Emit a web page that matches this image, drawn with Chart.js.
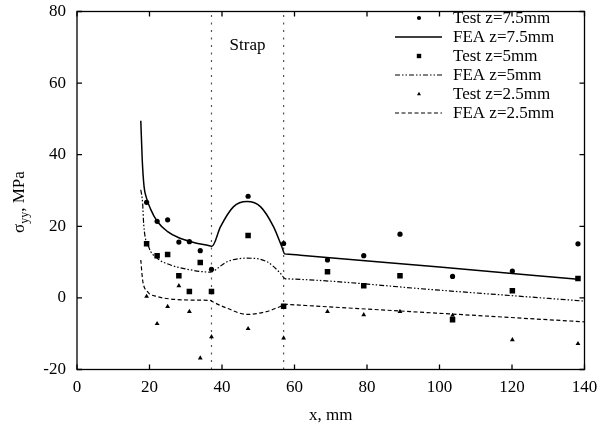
<!DOCTYPE html>
<html>
<head>
<meta charset="utf-8">
<script src="https://cdn.jsdelivr.net/npm/chart.js@4.4.1/dist/chart.umd.min.js"></script>
<style>
  html, body { margin: 0; padding: 0; background: #fff; }
  #wrap { width: 600px; height: 429px; }
</style>
</head>
<body>
<div id="wrap"><canvas id="chart"></canvas></div>
<script>
// measurement positions (mm) and measured stresses (MPa)
const testX = [19.2, 22.1, 25.0, 28.1, 31.0, 34.0, 37.1, 47.2, 57.0, 69.1, 79.1, 89.1, 103.6, 120.1, 138.2];
const test75 = [26.7, 21.4, 21.8, 15.6, 15.7, 13.2, 8.0, 28.4, 15.2, 10.6, 11.8, 17.8, 6.0, 7.5, 15.1];
const test5 = [15.1, 11.8, 12.1, 6.2, 1.8, 9.9, 1.8, 17.4, -2.3, 7.3, 3.4, 6.2, -6.1, 2.0, 5.4];
const test25 = [0.4, -7.2, -2.4, 3.4, -3.8, -16.8, -10.9, -8.6, -11.2, -3.8, -4.7, -3.8, -4.9, -11.7, -12.8];

// FEA curves
const fea75X = [17.6, 18.0, 18.5, 19.2, 20.3, 22.1, 24.9, 28.1, 32.2, 36.8, 37.2, 39.6, 43.2, 46.9, 50.6, 54.2, 56.5, 57.3, 58.5, 61.6, 100, 138.2];
const fea75 = [49.5, 38.5, 31.1, 27.8, 24.8, 21.4, 18.6, 16.8, 15.5, 14.5, 14.4, 19.9, 25.5, 26.9, 25.5, 19.9, 14.3, 12.3, 12.2, 11.9, 8.6, 5.2];
const fea5X = [17.6, 18.1, 18.4, 19.8, 22.1, 25.8, 30.4, 36.8, 37.3, 41.4, 46.9, 52.4, 56.1, 57.4, 58.5, 100, 140];
const fea5 = [30.2, 26.5, 20.5, 14.2, 11.1, 9.2, 8.0, 7.2, 7.3, 10.1, 11.1, 10.1, 6.9, 5.4, 5.3, 2.15, -0.9];
const fea25X = [17.6, 18.1, 19.4, 22.1, 25.8, 31.3, 36.8, 37.3, 41.4, 46.9, 52.4, 56.1, 57.9, 59.0, 100, 140];
const fea25 = [10.6, 5.0, 1.8, 0.4, -0.3, -0.6, -0.7, -1.0, -2.9, -4.6, -3.8, -2.4, -1.8, -1.87, -4.3, -6.7];

// strap edges
const strapX = [37.1, 57.0];

const xTicks = [0, 20, 40, 60, 80, 100, 120, 140];
const yTicks = [-20, 0, 20, 40, 60, 80];

const FONT = "'Liberation Serif', 'Times New Roman', serif";
Chart.defaults.font.family = FONT;
Chart.defaults.font.size = 17;
Chart.defaults.color = "#000";

function toPoints(xs, ys) {
  return xs.map((x, i) => ({ x: x, y: ys[i] }));
}

function markers(label, ys, style, radius) {
  return {
    label: label,
    data: toPoints(testX, ys),
    showLine: false,
    pointStyle: style,
    pointRadius: radius,
    pointHoverRadius: radius,
    pointBackgroundColor: "#000",
    pointBorderColor: "#000",
    pointBorderWidth: 0,
    inLegend: true,
  };
}

function curve(label, xs, ys, dash, width) {
  return {
    label: label,
    data: toPoints(xs, ys),
    showLine: true,
    pointRadius: 0,
    borderColor: "#000",
    borderWidth: width,
    borderDash: dash,
    cubicInterpolationMode: "monotone",
    inLegend: true,
  };
}

function strapLine(x) {
  return {
    label: "strap",
    data: [{ x: x, y: yTicks[0] }, { x: x, y: yTicks[yTicks.length - 1] }],
    showLine: true,
    pointRadius: 0,
    borderColor: "#555",
    borderWidth: 1.2,
    borderDash: [2, 5.5],
  };
}

function drawMarker(ctx, style, x, y, r) {
  ctx.beginPath();
  if (style === "circle") {
    ctx.arc(x, y, r, 0, Math.PI * 2);
  } else if (style === "rect") {
    const h = r * Math.SQRT1_2;
    ctx.rect(x - h, y - h, 2 * h, 2 * h);
  } else if (style === "triangle") {
    ctx.moveTo(x, y - r);
    ctx.lineTo(x + r * 0.866, y + r * 0.5);
    ctx.lineTo(x - r * 0.866, y + r * 0.5);
    ctx.closePath();
  }
  ctx.fill();
}

// frame with inward ticks on all four sides, strap label, y title
const framePlugin = {
  id: "frame",
  afterDatasetsDraw(chart) {
    const { ctx, chartArea: a, scales } = chart;
    const sx = scales.x, sy = scales.y;
    ctx.save();
    ctx.strokeStyle = "#000";
    ctx.lineWidth = 1.3;
    ctx.setLineDash([]);
    ctx.strokeRect(a.left, a.top, a.right - a.left, a.bottom - a.top);
    ctx.beginPath();
    xTicks.forEach((t) => {
      const px = sx.getPixelForValue(t);
      ctx.moveTo(px, a.bottom);
      ctx.lineTo(px, a.bottom - 5);
      ctx.moveTo(px, a.top);
      ctx.lineTo(px, a.top + 5);
    });
    yTicks.forEach((t) => {
      const py = sy.getPixelForValue(t);
      ctx.moveTo(a.left, py);
      ctx.lineTo(a.left + 5, py);
      ctx.moveTo(a.right, py);
      ctx.lineTo(a.right - 5, py);
    });
    ctx.stroke();

    // strap label
    ctx.fillStyle = "#000";
    ctx.font = "17px " + FONT;
    ctx.textAlign = "center";
    ctx.textBaseline = "middle";
    ctx.fillText("Strap", sx.getPixelForValue((strapX[0] + strapX[1]) / 2), sy.getPixelForValue(70.4));

    // y title: sigma with subscript yy
    ctx.translate(24, 233);
    ctx.rotate(-Math.PI / 2);
    ctx.textAlign = "left";
    ctx.textBaseline = "alphabetic";
    ctx.font = "17px " + FONT;
    ctx.fillText("σ", 0, 0);
    let w = ctx.measureText("σ").width;
    ctx.font = "12px " + FONT;
    ctx.fillText("yy", w, 4);
    w += ctx.measureText("yy").width;
    ctx.font = "17px " + FONT;
    ctx.fillText(", MPa", w, 0);
    ctx.restore();
  },
};

// key in the top-right corner
const keyPlugin = {
  id: "key",
  afterDraw(chart) {
    const ctx = chart.ctx;
    ctx.save();
    ctx.font = "17px " + FONT;
    ctx.fillStyle = "#000";
    ctx.strokeStyle = "#000";
    ctx.textAlign = "left";
    ctx.textBaseline = "middle";
    let row = 0;
    chart.data.datasets.forEach((ds) => {
      if (!ds.inLegend) return;
      const y = 18 + row * 19;
      if (ds.showLine) {
        ctx.lineWidth = ds.borderWidth;
        ctx.setLineDash(ds.borderDash || []);
        ctx.beginPath();
        ctx.moveTo(395, y);
        ctx.lineTo(442, y);
        ctx.stroke();
        ctx.setLineDash([]);
      } else {
        drawMarker(ctx, ds.pointStyle, 419, y, ds.pointStyle === "triangle" ? 2.3 : ds.pointRadius * 0.8);
      }
      ctx.fillText(ds.label, 453, y + 1);
      row++;
    });
    ctx.restore();
  },
};

new Chart(document.getElementById("chart"), {
  type: "scatter",
  data: {
    datasets: [
      markers("Test z=7.5mm", test75, "circle", 2.6),
      curve("FEA z=7.5mm", fea75X, fea75, [], 1.5),
      markers("Test z=5mm", test5, "rect", 3.9),
      curve("FEA z=5mm", fea5X, fea5, [5, 2, 1.5, 2, 1.5, 2], 1.2),
      markers("Test z=2.5mm", test25, "triangle", 2.8),
      curve("FEA z=2.5mm", fea25X, fea25, [4, 2.5], 1.2),
      strapLine(strapX[0]),
      strapLine(strapX[1]),
    ],
  },
  options: {
    responsive: true,
    maintainAspectRatio: false,
    animation: false,
    layout: { padding: { top: 11.5, right: 15.5, left: 0, bottom: 0 } },
    plugins: {
      legend: { display: false },
      tooltip: { enabled: false },
    },
    scales: {
      x: {
        type: "linear",
        min: xTicks[0],
        max: xTicks[xTicks.length - 1],
        grid: { display: false, drawTicks: false },
        border: { display: false },
        ticks: { stepSize: 20, padding: 8, color: "#000" },
        title: { display: true, text: "x, mm", padding: { top: 0, bottom: 3 }, color: "#000" },
        afterFit(scale) {
          scale.height = 59.5;
          scale.paddingLeft = 0;
          scale.paddingRight = 0;
        },
      },
      y: {
        type: "linear",
        min: yTicks[0],
        max: yTicks[yTicks.length - 1],
        grid: { display: false, drawTicks: false },
        border: { display: false },
        ticks: { stepSize: 20, padding: 11, color: "#000" },
        afterFit(scale) {
          scale.width = 77;
          scale.paddingTop = 0;
          scale.paddingBottom = 0;
        },
      },
    },
  },
  plugins: [framePlugin, keyPlugin],
});
</script>
</body>
</html>
